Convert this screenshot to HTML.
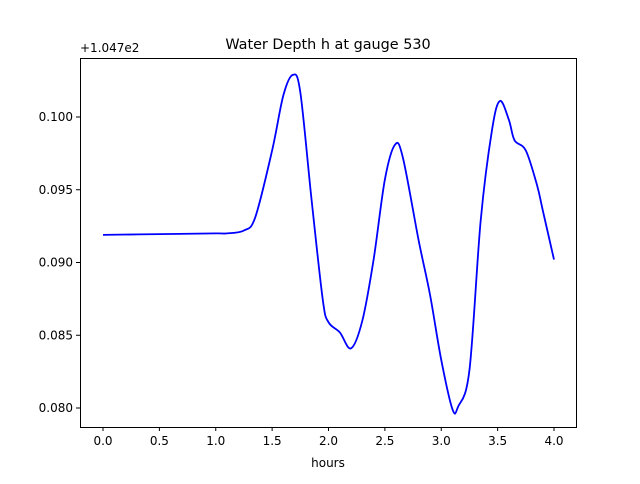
<!DOCTYPE html>
<html><head><meta charset="utf-8"><style>
body{margin:0;background:#fff;font-family:"DejaVu Sans","Liberation Sans",sans-serif;}
svg text{font-family:"DejaVu Sans","Liberation Sans",sans-serif;fill:#000;}
</style></head><body>
<svg id="chart" width="640" height="480" xmlns="http://www.w3.org/2000/svg">
<rect width="640" height="480" fill="#fff"/>
<text x="328" y="49" font-size="14.4" text-anchor="middle">Water Depth h at gauge 530</text>
<text x="80" y="52" font-size="12">+1.047e2</text>
<text x="328" y="467" font-size="12" text-anchor="middle">hours</text>
<g id="ticks"></g>
<path id="line" fill="none" stroke="#0000ff" stroke-width="1.8"/>
<rect x="80.5" y="58.5" width="496" height="369" fill="none" stroke="#000" stroke-width="1"/>
</svg>
<script>
const hours=[0,0.5,1.0,1.1,1.25,1.35,1.5,1.6,1.685,1.75,1.85,1.95,2.0,2.1,2.2,2.3,2.4,2.5,2.59,2.66,2.8,2.9,3.0,3.1,3.15,3.25,3.35,3.45,3.52,3.6,3.65,3.75,3.85,3.9,4.0];
const depth=[0.0919,0.09195,0.0920,0.0920,0.0922,0.0931,0.0977,0.1015,0.1029,0.1017,0.0943,0.0874,0.0859,0.0852,0.0841,0.0860,0.0902,0.0957,0.0981,0.0972,0.0915,0.0878,0.0833,0.0799,0.0801,0.0826,0.0929,0.0991,0.1011,0.0998,0.0984,0.0977,0.0953,0.0936,0.0902];
const xTicks=[0,0.5,1.0,1.5,2.0,2.5,3.0,3.5,4.0];
const yTicks=[0.080,0.085,0.090,0.095,0.100];
const X=v=>103+v*112.75;
const Y=v=>408-(v-0.080)*14550;
const NS="http://www.w3.org/2000/svg";
const g=document.getElementById('ticks');
function mk(tag,attrs){const e=document.createElementNS(NS,tag);for(const k in attrs)e.setAttribute(k,attrs[k]);return e;}
xTicks.forEach(t=>{
 const l=mk('line',{x1:X(t),x2:X(t),y1:427,y2:431,stroke:'#000'});
 
 
 g.appendChild(l);
 const tx=mk('text',{x:X(t),y:445,'font-size':12,'text-anchor':'middle'});
 tx.textContent=t.toFixed(1);
 
 
 g.appendChild(tx);
});
yTicks.forEach(t=>{
 const l=mk('line',{x1:76,x2:80,y1:Y(t),y2:Y(t),stroke:'#000'});
 
 
 g.appendChild(l);
 const tx=mk('text',{x:73,y:Y(t)+4,'font-size':12,'text-anchor':'end'});
 tx.textContent=t.toFixed(3);
 
 
 g.appendChild(tx);
});
const pts=hours.map((h,i)=>[X(h),Y(depth[i])]);
let d='M'+pts[0][0]+','+pts[0][1];
for(let i=0;i<pts.length-1;i++){
 const p0=pts[Math.max(0,i-1)],p1=pts[i],p2=pts[i+1],p3=pts[Math.min(pts.length-1,i+2)];
 const c1=[p1[0]+(p2[0]-p0[0])/6,p1[1]+(p2[1]-p0[1])/6];
 const c2=[p2[0]-(p3[0]-p1[0])/6,p2[1]-(p3[1]-p1[1])/6];
 d+=` C${c1[0]},${c1[1]} ${c2[0]},${c2[1]} ${p2[0]},${p2[1]}`;
}
document.getElementById('line').setAttribute('d',d);
</script>
</body></html>
